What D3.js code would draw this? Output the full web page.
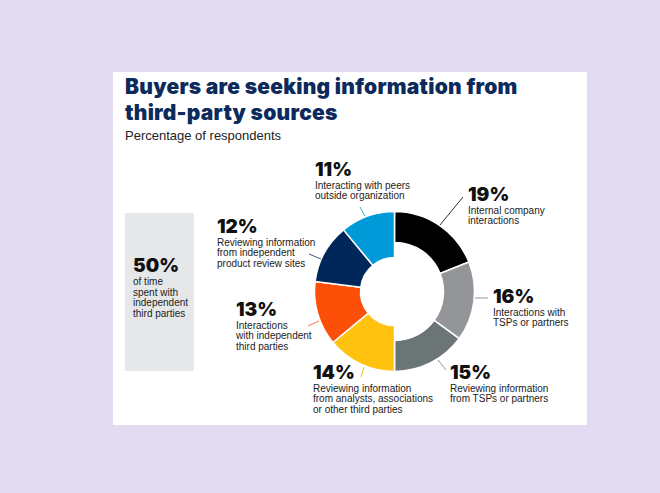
<!DOCTYPE html>
<html>
<head>
<meta charset="utf-8">
<script src="https://cdn.jsdelivr.net/npm/d3@7"></script>
<style>
  html, body { margin: 0; padding: 0; background: #e2dbf2; }
  svg { display: block; }
</style>
</head>
<body>
<svg id="chart" width="660" height="493"></svg>
<script>
// ---------------- DATA ----------------
const title = ["Buyers are seeking information from", "third-party sources"];
const subtitle = "Percentage of respondents";
const categories = [
  "Internal company interactions",
  "Interactions with TSPs or partners",
  "Reviewing information from TSPs or partners",
  "Reviewing information from analysts, associations or other third parties",
  "Interactions with independent third parties",
  "Reviewing information from independent product review sites",
  "Interacting with peers outside organization"
];
const values = [19, 16, 15, 14, 13, 12, 11];
const sourceType = ["internal", "internal", "internal", "third", "third", "third", "third"];
const labelLines = [
  ["Internal company", "interactions"],
  ["Interactions with", "TSPs or partners"],
  ["Reviewing information", "from TSPs or partners"],
  ["Reviewing information", "from analysts, associations", "or other third parties"],
  ["Interactions", "with independent", "third parties"],
  ["Reviewing information", "from independent", "product review sites"],
  ["Interacting with peers", "outside organization"]
];
const calloutValue = "50%";
const calloutLines = ["of time", "spent with", "independent", "third parties"];

// ---------------- STYLE / LAYOUT ----------------
const colors = ["#000000", "#939598", "#6c7576", "#ffc20f", "#fc5009", "#00275a", "#009ad9"];
const leaderColors = ["#333333", "#939598", "#8a9192", "#ffc20f", "#fc7a4a", "#3a5a85", "#3fb0e0"];
const labelLayout = [
  { x: 468, y: 201, leader: [440, 225, 463, 197] },
  { x: 493, y: 303, leader: [475, 298, 488, 298] },
  { x: 450, y: 379, leader: [438, 360, 446, 370] },
  { x: 313, y: 379, leader: [364, 367, 361, 377] },
  { x: 236, y: 316, leader: [319, 321, 308, 326] },
  { x: 217, y: 233, leader: [321, 259, 309, 254] },
  { x: 315, y: 176, leader: [365, 216, 360, 207] }
];
const cx = 394.5, cy = 291.5, outerR = 80;
const innerR = { internal: 49, third: 34 };
const boldFont = "Inter, 'Liberation Sans', Arial, sans-serif";
const bodyFont = "'Liberation Sans', Arial, sans-serif";

const svg = d3.select("#chart");

// card
svg.append("rect").attr("x", 113).attr("y", 72).attr("width", 474).attr("height", 353).attr("fill", "#ffffff");

// title
svg.append("g").selectAll("text").data(title).join("text")
  .attr("x", 125).attr("y", (d, i) => 94 + i * 26)
  .attr("font-family", boldFont).attr("font-weight", 900).attr("font-size", 21)
  .attr("letter-spacing", 0.25)
  .attr("fill", "#0c2a5b").text(d => d);

svg.append("text").attr("x", 125).attr("y", 140)
  .attr("font-family", bodyFont).attr("font-size", 13).attr("fill", "#222")
  .text(subtitle);

// callout box
svg.append("rect").attr("x", 125).attr("y", 213).attr("width", 69).attr("height", 158).attr("fill", "#e6e7e9");
svg.append("text").attr("x", 133).attr("y", 272)
  .attr("font-family", boldFont).attr("font-weight", 900).attr("font-size", 19).attr("fill", "#111")
  .text(calloutValue);
svg.append("g").selectAll("text").data(calloutLines).join("text")
  .attr("x", 133).attr("y", (d, i) => 285 + i * 10.5)
  .attr("font-family", bodyFont).attr("font-size", 10).attr("fill", "#222").text(d => d);

// donut
const pie = d3.pie().sort(null).value(d => d.value);
const slices = pie(values.map((v, i) => ({ value: v, type: sourceType[i], i })));
const arc = d3.arc()
  .innerRadius(d => innerR[d.data.type])
  .outerRadius(outerR);

const g = svg.append("g").attr("transform", `translate(${cx},${cy})`);
g.selectAll("path").data(slices).join("path")
  .attr("d", arc)
  .attr("fill", d => colors[d.data.i])
  .attr("stroke", "#ffffff").attr("stroke-width", 1.5).attr("stroke-linejoin", "round");

// labels
const lab = svg.append("g").selectAll("g").data(slices).join("g");
lab.append("line")
  .attr("x1", d => labelLayout[d.data.i].leader[0]).attr("y1", d => labelLayout[d.data.i].leader[1])
  .attr("x2", d => labelLayout[d.data.i].leader[2]).attr("y2", d => labelLayout[d.data.i].leader[3])
  .attr("stroke", d => leaderColors[d.data.i]).attr("stroke-width", 1);
lab.append("text")
  .attr("x", d => labelLayout[d.data.i].x).attr("y", d => labelLayout[d.data.i].y)
  .attr("font-family", boldFont).attr("font-weight", 900).attr("font-size", 19).attr("fill", "#111")
  .text(d => d.data.value + "%");
lab.each(function(d) {
  const L = labelLayout[d.data.i];
  d3.select(this).selectAll("text.line").data(labelLines[d.data.i]).join("text")
    .attr("class", "line")
    .attr("x", L.x).attr("y", (t, k) => L.y + 12.5 + k * 10.5)
    .attr("font-family", bodyFont).attr("font-size", 10).attr("fill", "#222")
    .text(t => t);
});
</script>
</body>
</html>
